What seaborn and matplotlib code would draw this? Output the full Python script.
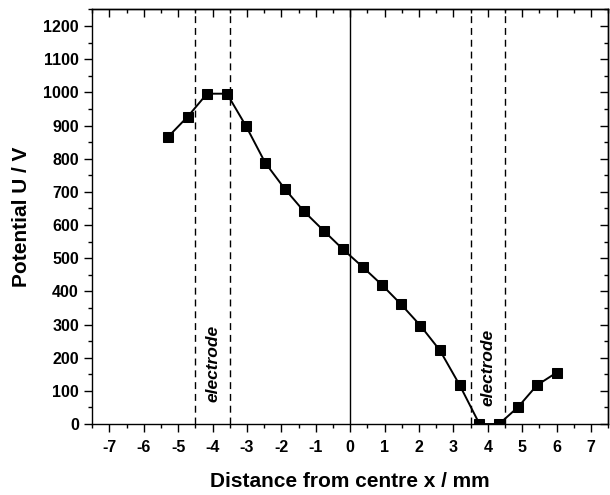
import numpy as np
import pandas as pd
import matplotlib
matplotlib.use("Agg")
import matplotlib.pyplot as plt
from matplotlib.ticker import MultipleLocator
import seaborn as sns

# Measured potential along the gap
distance_mm = [-5.29, -4.72, -4.16, -3.58, -3.03, -2.47, -1.90, -1.34, -0.77, -0.21,
               0.36, 0.92, 1.47, 2.04, 2.61, 3.18, 3.76, 4.33, 4.88, 5.43, 6.00]
potential_v = [866, 927, 996, 996, 899, 788, 709, 641, 583, 527,
               474, 420, 362, 297, 222, 118, 0, 0, 51, 117, 155]

# Electrode edges (mm)
electrode_left = [-4.5, -3.5]
electrode_right = [3.5, 4.5]
electrode_label = "electrode"

df = pd.DataFrame({"x": distance_mm, "U": potential_v})

sns.set_style("ticks")
plt.rcParams["font.family"] = ["Liberation Sans", "DejaVu Sans"]
plt.rcParams["font.weight"] = "bold"
plt.rcParams["axes.unicode_minus"] = False
for key in ["text.color", "axes.labelcolor", "xtick.color", "ytick.color",
            "axes.edgecolor"]:
    plt.rcParams[key] = "black"

fig = plt.figure(figsize=(6.1, 4.95), dpi=100)
ax = fig.add_axes([0.151, 0.1434, 0.846, 0.8375])

sns.lineplot(data=df, x="x", y="U", ax=ax, sort=False, color="black",
             linewidth=1.4, marker="s", markersize=7.2, markeredgecolor="black",
             markerfacecolor="black", zorder=3)

ax.axvline(0, color="black", linewidth=1.0, zorder=2)
for xe in electrode_left + electrode_right:
    ax.axvline(xe, color="black", linewidth=1.0, linestyle=(0, (5, 3.5)), zorder=2)

ax.text(np.mean(electrode_left), 182, electrode_label, rotation=90, ha="center",
        va="center", fontsize=12.5, fontstyle="italic", fontweight="bold",
        color="black")
ax.text(np.mean(electrode_right), 172, electrode_label, rotation=90, ha="center",
        va="center", fontsize=12.5, fontstyle="italic", fontweight="bold",
        color="black")

ax.set_xlim(-7.5, 7.5)
ax.set_ylim(0, 1250)
ax.xaxis.set_major_locator(MultipleLocator(1))
ax.xaxis.set_minor_locator(MultipleLocator(0.5))
ax.yaxis.set_major_locator(MultipleLocator(100))
ax.yaxis.set_minor_locator(MultipleLocator(50))

ax.tick_params(axis="both", which="major", direction="out", length=5.5, width=1,
               labelsize=11.5, color="black", labelcolor="black")
ax.tick_params(axis="x", which="major", pad=6)
ax.tick_params(axis="y", which="major", pad=4)
ax.tick_params(axis="both", which="minor", direction="out", length=3, width=1,
               color="black")
ax.tick_params(axis="both", which="both", top=False, right=False)

# Mirrored inward ticks on the top and right edges
sec_x = ax.secondary_xaxis("top")
sec_x.xaxis.set_major_locator(MultipleLocator(1))
sec_x.xaxis.set_minor_locator(MultipleLocator(0.5))
sec_x.tick_params(which="major", direction="in", length=5.5, width=1, labeltop=False,
                  color="black")
sec_x.tick_params(which="minor", direction="in", length=3, width=1, color="black")
sec_x.set_xticklabels([])
sec_y = ax.secondary_yaxis("right")
sec_y.yaxis.set_major_locator(MultipleLocator(100))
sec_y.yaxis.set_minor_locator(MultipleLocator(50))
sec_y.tick_params(which="major", direction="in", length=5.5, width=1, labelright=False,
                  color="black")
sec_y.tick_params(which="minor", direction="in", length=3, width=1, color="black")
sec_y.set_yticklabels([])

for side in ["left", "right", "top", "bottom"]:
    ax.spines[side].set_visible(True)
    ax.spines[side].set_linewidth(1.0)
    ax.spines[side].set_color("black")
for sa in (sec_x, sec_y):
    for sp in sa.spines.values():
        sp.set_linewidth(1.0)
        sp.set_color("black")

ax.set_xlabel("Distance from centre x / mm", fontsize=15, fontweight="bold",
              labelpad=12, color="black")
ax.set_ylabel("Potential U / V", fontsize=15, fontweight="bold", labelpad=9,
              color="black")
for lab in ax.get_xticklabels() + ax.get_yticklabels():
    lab.set_fontweight("bold")

fig.savefig("out.png", dpi=100)
